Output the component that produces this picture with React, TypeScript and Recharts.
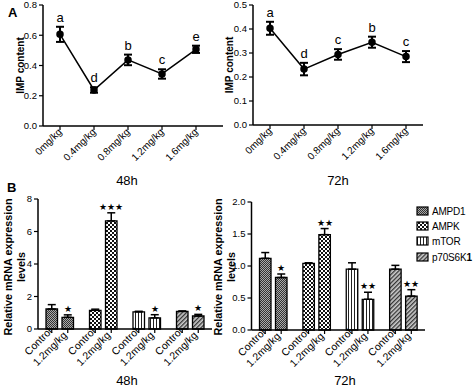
import React from 'react';
import { LineChart, Line, BarChart, Bar, Cell, XAxis, YAxis, ErrorBar, LabelList } from 'recharts';

// panel A: IMP content by dose
const doses = ['0mg/kg', '0.4mg/kg', '0.8mg/kg', '1.2mg/kg', '1.6mg/kg'];
const imp48h = [0.606, 0.238, 0.437, 0.344, 0.507];
const imp48hErr = [0.05, 0.018, 0.035, 0.031, 0.024];
const imp48hLetters = ['a', 'd', 'b', 'c', 'e'];
const imp48hTicks = [0, 0.2, 0.4, 0.6, 0.8];
const imp72h = [0.403, 0.233, 0.294, 0.345, 0.285];
const imp72hErr = [0.027, 0.026, 0.022, 0.023, 0.023];
const imp72hLetters = ['a', 'd', 'c', 'b', 'c'];
const imp72hTicks = [0, 0.1, 0.2, 0.3, 0.4, 0.5];

// panel B: relative mRNA expression
const genes = ['AMPD1', 'AMPK', 'mTOR', 'p70S6K1'];
const groups = ['Control', '1.2mg/kg'];
const control48h = [1.23, 1.15, 1.05, 1.08];
const control48hErr = [0.27, 0.07, 0.04, 0.03];
const treated48h = [0.72, 6.65, 0.68, 0.8];
const treated48hErr = [0.15, 0.5, 0.2, 0.1];
const stars48h = ['★', '★★★', '★', '★'];
const mrna48hTicks = [0, 2, 4, 6, 8];
const control72h = [1.12, 1.04, 0.95, 0.95];
const control72hErr = [0.09, 0.01, 0.1, 0.06];
const treated72h = [0.82, 1.49, 0.48, 0.53];
const treated72hErr = [0.055, 0.095, 0.11, 0.1];
const stars72h = ['★', '★★', '★★', '★★'];
const mrna72hTicks = [0, 0.5, 1, 1.5, 2];

const FONT = '"Liberation Sans", Arial, sans-serif';
const axisStyle = { stroke: '#000', strokeWidth: 1.5 };

const PatternDefs = ({ prefix }: { prefix: string }) => (
  <defs>
    <pattern id={`${prefix}-0`} width={2} height={2} patternUnits="userSpaceOnUse">
      <rect width={2} height={2} fill="#aaa" />
      <rect width={1} height={1} fill="#333" />
      <rect x={1} y={1} width={1} height={1} fill="#333" />
    </pattern>
    <pattern id={`${prefix}-1`} width={4} height={4} patternUnits="userSpaceOnUse">
      <rect width={4} height={4} fill="#fff" />
      <rect width={2} height={2} fill="#111" />
      <rect x={2} y={2} width={2} height={2} fill="#111" />
    </pattern>
    <pattern id={`${prefix}-2`} width={3} height={3} patternUnits="userSpaceOnUse">
      <rect width={3} height={3} fill="#fff" />
      <rect width={1} height={3} fill="#222" />
    </pattern>
    <pattern id={`${prefix}-3`} width={3} height={3} patternUnits="userSpaceOnUse" patternTransform="rotate(45)">
      <rect width={3} height={3} fill="#ccc" />
      <rect width={1.3} height={3} fill="#333" />
    </pattern>
  </defs>
);

const SlantTick = (props: any) => {
  const { x, y, payload } = props;
  return (
    <g transform={`translate(${x},${y})`}>
      <text x={0} y={0} dy={3.5} textAnchor="end" transform="rotate(-45)" fontSize={10} fill="#000">
        {payload.value}
      </text>
    </g>
  );
};

// two labels per gene: control bar on the left, treated bar on the right
const pairTick = (shift: number) => (props: any) => {
  const { x, y } = props;
  const xs = [x - shift, x + shift];
  return (
    <g>
      {groups.map((g, i) => (
        <g key={g}>
          <line x1={xs[i]} y1={y - 4} x2={xs[i]} y2={y} stroke="#000" strokeWidth={1.2} />
          <g transform={`translate(${xs[i] - (i === 0 ? 1.5 : 2.5)},${i === 0 ? y - 3.5 : y + 0.5})`}>
            <text x={0} y={0} dy={3.5} textAnchor="end" transform="rotate(-45)" fontSize={10.5} fill="#000">
              {g}
            </text>
          </g>
        </g>
      ))}
    </g>
  );
};

type ImpProps = {
  values: number[];
  errors: number[];
  letters: string[];
  ticks: number[];
  width: number;
  axisWidth: number;
  xAxisHeight: number;
  padRight: number;
  marginRight: number;
};

const ImpChart = ({ values, errors, letters, ticks, width, axisWidth, xAxisHeight, padRight, marginRight }: ImpProps) => {
  const data = doses.map((dose, i) => ({
    dose,
    imp: values[i],
    err: errors[i],
    top: values[i] + errors[i],
    letter: letters[i],
  }));
  return (
    <LineChart width={width} height={180} data={data} margin={{ top: 5, right: marginRight, left: 0, bottom: 0 }}>
      <XAxis
        dataKey="dose"
        interval={0}
        height={xAxisHeight}
        padding={{ left: 17, right: padRight }}
        axisLine={axisStyle}
        tickLine={{ stroke: '#000', strokeWidth: 1.2 }}
        tickSize={4}
        tickMargin={0}
        tick={<SlantTick />}
      />
      <YAxis
        domain={[0, ticks[ticks.length - 1]]}
        ticks={ticks}
        width={axisWidth}
        tickFormatter={(v: number) => v.toFixed(1)}
        axisLine={axisStyle}
        tickLine={{ stroke: '#000', strokeWidth: 1.2 }}
        tickSize={4}
        tickMargin={2}
        tick={{ fontSize: 9.5, fill: '#000' }}
        label={{ value: 'IMP content', angle: -90, position: 'center', dx: -1, style: { fontWeight: 'bold', fontSize: 10, fill: '#000' } }}
      />
      <Line dataKey="top" stroke="none" dot={false} activeDot={false} isAnimationActive={false}>
        <LabelList dataKey="letter" position="top" offset={5} fontSize={13} fill="#000" />
      </Line>
      <Line
        dataKey="imp"
        stroke="#000"
        strokeWidth={1.5}
        dot={{ r: 3, fill: '#000', stroke: '#000' }}
        activeDot={false}
        isAnimationActive={false}
      >
        <ErrorBar dataKey="err" width={4} stroke="#000" strokeWidth={2} />
      </Line>
    </LineChart>
  );
};

const starLabel = (vals: number[], errs: number[], marks: string[]) => (props: any) => {
  const vb = props.viewBox || {};
  const x = props.x ?? vb.x;
  const y = props.y ?? vb.y;
  const w = props.width ?? vb.width;
  const h = props.height ?? vb.height;
  const i = props.index;
  const top = y - errs[i] * (h / vals[i]);
  return (
    <text x={x + w / 2} y={top - 3} textAnchor="middle" fontSize={9} fill="#000">
      {marks[i]}
    </text>
  );
};

type MrnaProps = {
  prefix: string;
  control: number[];
  controlErr: number[];
  treated: number[];
  treatedErr: number[];
  stars: string[];
  ticks: number[];
  fmt: (v: number) => string;
  axisWidth: number;
  marginTop: number;
  xAxisHeight: number;
};

const MrnaChart = ({ prefix, control, controlErr, treated, treatedErr, stars, ticks, fmt, axisWidth, marginTop, xAxisHeight }: MrnaProps) => {
  const data = genes.map((gene, i) => ({
    gene,
    control: control[i],
    controlErr: [0, controlErr[i]],
    treated: treated[i],
    treatedErr: [0, treatedErr[i]],
  }));
  const barSize = 11.5;
  const barGap = 4.5;
  return (
    <BarChart
      width={216}
      height={200}
      data={data}
      margin={{ top: marginTop, right: 4, left: 0, bottom: 0 }}
      barSize={barSize}
      barGap={barGap}
    >
      <PatternDefs prefix={prefix} />
      <XAxis
        dataKey="gene"
        interval={0}
        height={xAxisHeight}
        axisLine={axisStyle}
        tickLine={false}
        tickSize={4}
        tickMargin={0}
        tick={pairTick((barSize + barGap) / 2)}
      />
      <YAxis
        domain={[0, ticks[ticks.length - 1]]}
        ticks={ticks}
        width={axisWidth}
        tickFormatter={fmt}
        axisLine={axisStyle}
        tickLine={{ stroke: '#000', strokeWidth: 1.2 }}
        tickSize={4}
        tickMargin={2}
        tick={{ fontSize: 9.5, fill: '#000' }}
      />
      <Bar dataKey="control" stroke="#000" strokeWidth={1.3} isAnimationActive={false}>
        {data.map((d, i) => (
          <Cell key={d.gene} fill={`url(#${prefix}-${i})`} />
        ))}
        <ErrorBar dataKey="controlErr" width={4} stroke="#000" strokeWidth={1.5} />
      </Bar>
      <Bar dataKey="treated" stroke="#000" strokeWidth={1.3} isAnimationActive={false}>
        {data.map((d, i) => (
          <Cell key={d.gene} fill={`url(#${prefix}-${i})`} />
        ))}
        <ErrorBar dataKey="treatedErr" width={4} stroke="#000" strokeWidth={1.5} />
        <LabelList dataKey="treated" content={starLabel(treated, treatedErr, stars)} />
      </Bar>
    </BarChart>
  );
};

const VText = ({ x, y, children }: { x: number; y: number; children: React.ReactNode }) => (
  <text
    x={x}
    y={y}
    textAnchor="middle"
    dominantBaseline="central"
    fontWeight="bold"
    fontSize={10.8}
    fill="#000"
    transform={`rotate(-90, ${x}, ${y})`}
  >
    {children}
  </text>
);

const legendRows = [211, 226, 241, 257];

export default function App() {
  return (
    <div
      style={{
        position: 'absolute',
        left: 0,
        top: 0,
        width: 474,
        height: 391,
        background: '#fff',
        fontFamily: FONT,
        overflow: 'hidden',
      }}
    >
      <div style={{ position: 'absolute', left: 0, top: 0 }}>
        <ImpChart
          values={imp48h}
          errors={imp48hErr}
          letters={imp48hLetters}
          ticks={imp48hTicks}
          width={235}
          axisWidth={43}
          xAxisHeight={54}
          padRight={27}
          marginRight={12}
        />
      </div>
      <div style={{ position: 'absolute', left: 207, top: 0 }}>
        <ImpChart
          values={imp72h}
          errors={imp72hErr}
          letters={imp72hLetters}
          ticks={imp72hTicks}
          width={230}
          axisWidth={46}
          xAxisHeight={55}
          padRight={17}
          marginRight={14}
        />
      </div>
      <div style={{ position: 'absolute', left: 0, top: 180 }}>
        <MrnaChart
          prefix="p48"
          control={control48h}
          controlErr={control48hErr}
          treated={treated48h}
          treatedErr={treated48hErr}
          stars={stars48h}
          ticks={mrna48hTicks}
          fmt={(v) => String(v)}
          axisWidth={38}
          marginTop={19}
          xAxisHeight={51}
        />
      </div>
      <div style={{ position: 'absolute', left: 213, top: 180 }}>
        <MrnaChart
          prefix="p72"
          control={control72h}
          controlErr={control72hErr}
          treated={treated72h}
          treatedErr={treated72hErr}
          stars={stars72h}
          ticks={mrna72hTicks}
          fmt={(v) => v.toFixed(1)}
          axisWidth={38.5}
          marginTop={22}
          xAxisHeight={50}
        />
      </div>
      <svg width={474} height={391} style={{ position: 'absolute', left: 0, top: 0, pointerEvents: 'none' }}>
        <PatternDefs prefix="leg" />
        <text x={8} y={17} fontSize={13} fontWeight="bold" fill="#000">A</text>
        <text x={7} y={192} fontSize={13} fontWeight="bold" fill="#000">B</text>
        <text x={127} y={185} fontSize={13} textAnchor="middle" fill="#000">48h</text>
        <text x={338} y={185} fontSize={13} textAnchor="middle" fill="#000">72h</text>
        <text x={127} y={385} fontSize={13} textAnchor="middle" fill="#000">48h</text>
        <text x={345} y={385} fontSize={13} textAnchor="middle" fill="#000">72h</text>
        <VText x={8} y={267}>Relative mRNA expression</VText>
        <VText x={21} y={267}>levels</VText>
        <VText x={218} y={267}>Relative mRNA expression</VText>
        <VText x={231} y={267}>levels</VText>
        {genes.map((g, i) => (
          <g key={g}>
            <rect x={417} y={legendRows[i] - 4} width={11} height={8} fill={`url(#leg-${i})`} stroke="#000" strokeWidth={1.2} />
            <text x={432} y={legendRows[i] + 3.5} fontSize={10} letterSpacing={-0.2} fill="#000">
              {g === 'p70S6K1' ? (
                <>
                  p70S6K<tspan fontWeight="bold">1</tspan>
                </>
              ) : (
                g
              )}
            </text>
          </g>
        ))}
      </svg>
    </div>
  );
}
